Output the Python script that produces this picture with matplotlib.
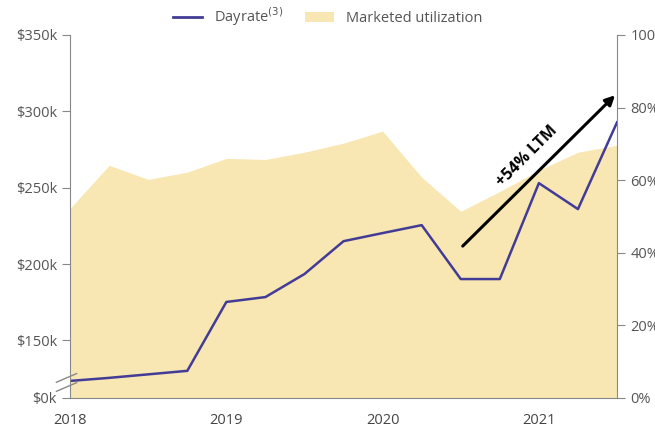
import numpy as np
import matplotlib.pyplot as plt
from matplotlib.lines import Line2D
from matplotlib.patches import Patch

# quarterly points 2018 Q1 .. 2021 Q3
quarters = np.arange(15)
dayrate_k = [123.5, 125.5, 127.8, 130.1, 175.2, 178.4, 193.5, 215.0,
             220.3, 225.5, 190.2, 190.2, 253.0, 236.0, 292.8]
utilization = [52.2, 64.1, 60.2, 62.2, 66.0, 65.7, 67.7, 70.2,
               73.5, 60.8, 51.4, 56.9, 62.7, 67.7, 69.6]
year_pos = [0, 4, 8, 12]
year_labels = ['2018', '2019', '2020', '2021']
left_ticks = [112.4, 150, 200, 250, 300, 350]
left_labels = ['$0k', '$150k', '$200k', '$250k', '$300k', '$350k']
right_ticks = [0, 20, 40, 60, 80, 100]
right_labels = ['0%', '20%', '40%', '60%', '80%', '100%']

plt.rcParams['font.family'] = ['Open Sans', 'DejaVu Sans']
grey = '#888888'
txt = '#555555'
area_c = '#F8E7B2'
line_c = '#433C96'

fig = plt.figure(figsize=(6.55, 4.32), dpi=100)
ax = fig.add_axes([0.107, 0.079, 0.835, 0.840])
ax2 = ax.twinx()

ax2.fill_between(quarters, 0, utilization, color=area_c, lw=0)
ax2.set_ylim(0, 100)
ax2.set_yticks(right_ticks)
ax2.set_yticklabels(right_labels)

ax.plot(quarters, dayrate_k, color=line_c, lw=1.8)
ax.set_ylim(112.4, 350)
ax.set_xlim(0, 14)
ax.set_yticks(left_ticks)
ax.set_yticklabels(left_labels)
ax.set_xticks(year_pos)
ax.set_xticklabels(year_labels)

ax.set_zorder(ax2.get_zorder() + 1)
ax.patch.set_visible(False)

for a in (ax, ax2):
    a.spines['top'].set_visible(False)
    for s in ('left', 'right', 'bottom'):
        a.spines[s].set_color(grey)
    a.tick_params(colors=grey, labelcolor=txt, labelsize=10.5, length=6)
ax.tick_params(axis='x', length=0, pad=11, labelcolor='#444444')
ax.spines['right'].set_visible(False)
ax2.spines['left'].set_visible(False)
ax2.spines['bottom'].set_visible(False)

# axis break marks
for yy in (0.03, 0.055):
    ax.plot([-0.025, 0.012], [yy - 0.012, yy + 0.012], transform=ax.transAxes,
            color=grey, lw=1, clip_on=False, zorder=5)

# LTM arrow
ax.annotate('', xy=(14, 311.8), xytext=(10, 210.5),
            arrowprops=dict(arrowstyle='-|>', color='black', lw=2.2,
                            mutation_scale=14))
ax.text(11.7, 270.5, '+54% LTM', rotation=45, ha='center', va='center',
        fontsize=11.5, fontweight='bold', color='black')

handles = [Line2D([], [], color=line_c, lw=2),
           Patch(facecolor=area_c, edgecolor='none')]
fig.legend(handles, ['Dayrate$^{(3)}$', 'Marketed utilization'],
           loc='center', bbox_to_anchor=(0.5, 0.962), ncol=2, frameon=False,
           fontsize=10.5, labelcolor=txt, handlelength=2, columnspacing=1.5)

plt.savefig('out.png', dpi=100)
